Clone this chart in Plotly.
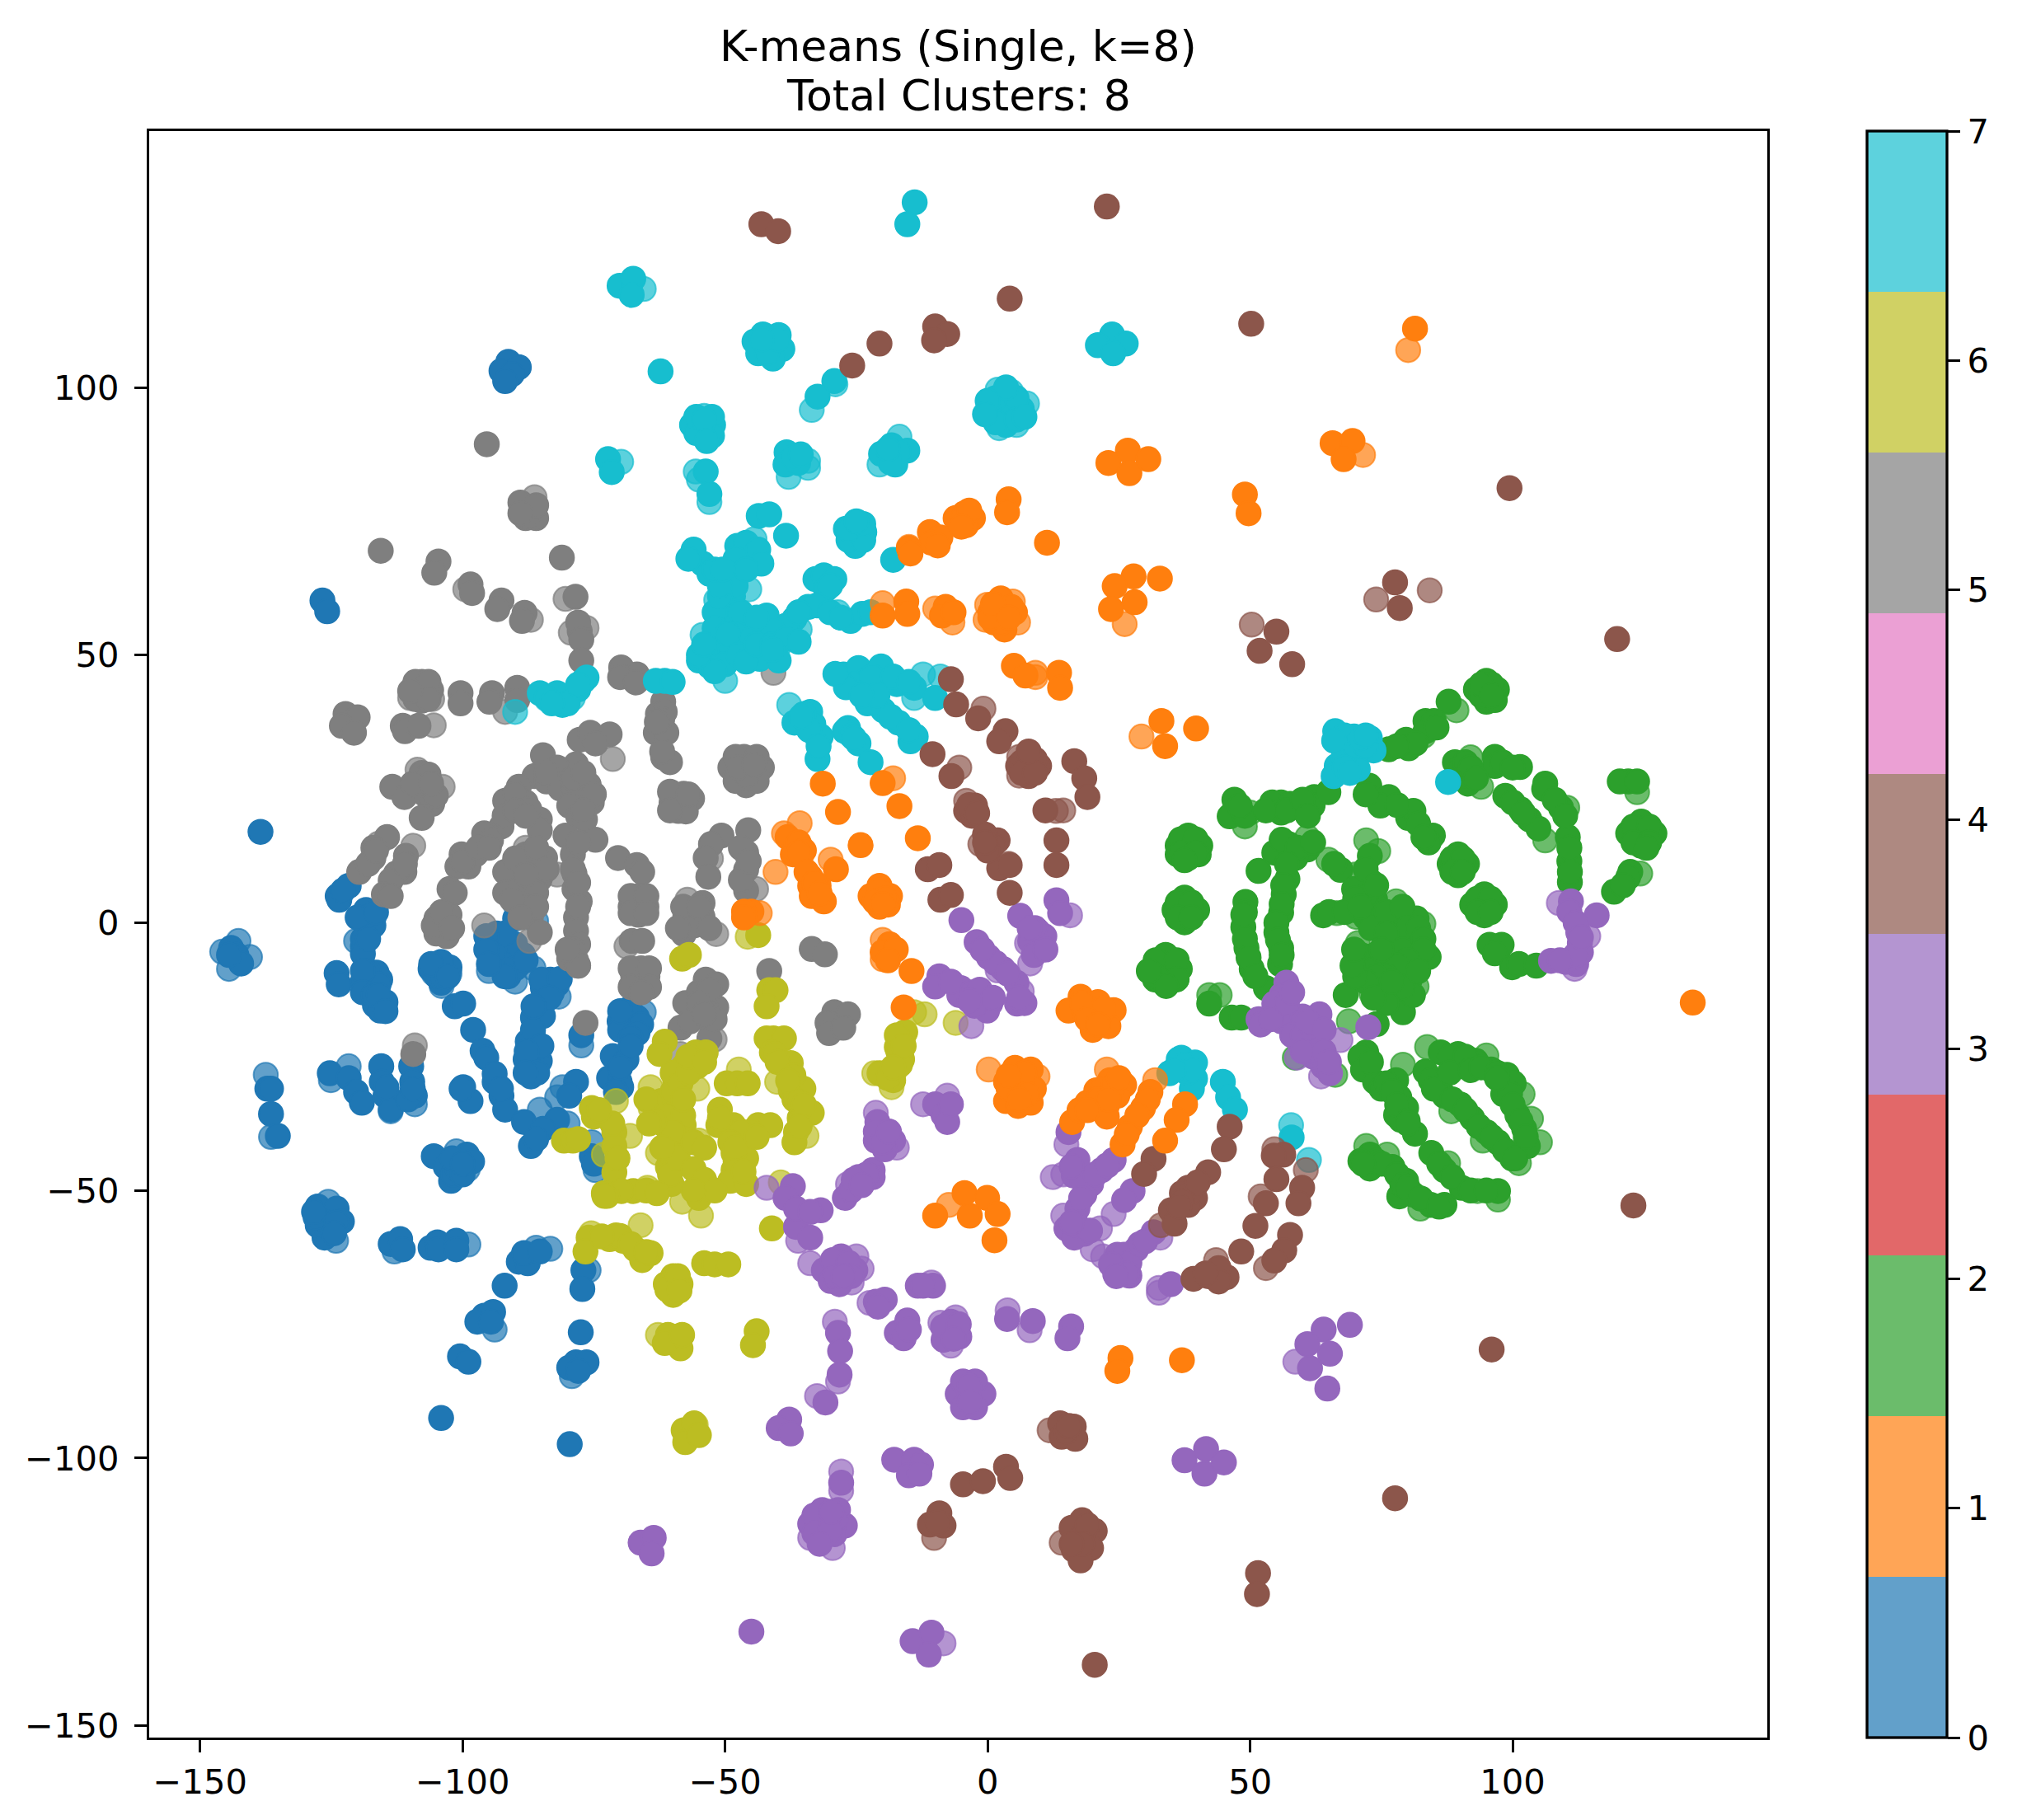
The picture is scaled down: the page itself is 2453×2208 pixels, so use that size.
import plotly.graph_objects as go

TITLE_LINE_1 = "K-means (Single, k=8)"
TITLE_LINE_2 = "Total Clusters: 8"
X_TICKS = [-150, -100, -50, 0, 50, 100]
Y_TICKS = [-150, -100, -50, 0, 50, 100]
CBAR_TICKS = [0, 1, 2, 3, 4, 5, 6, 7]
TAB10 = [(31,119,180),(255,127,14),(44,160,44),(214,39,40),(148,103,189),
         (140,86,75),(227,119,194),(127,127,127),(188,189,34),(23,190,207)]

blue_solid = [(-91.3,104.8),(-92.6,103.1),(-89.3,103.8),(-90.6,102.5),(-91.9,101.2),(-126.7,60.2),(-125.8,58.2),
 (-138.5,17),(-144.1,-4.7),(-143.1,-6),(-142.2,-7.6),(-144.5,-6),(-121.7,6.9),(-123.8,5),(-123.5,4.3),(-119.4,0.8),(-117,0.8),(-118.4,2.4),(-118.4,-0.5),
 (-119,-4.4),(-119,-3),(-124,-9.4),(-123.6,-11.5),(-117.7,-10.6),(-119,-10.9),(-116.4,-9.3),(-117.7,-11.9),(-115.7,-10.6),(-115.7,-15.1),(-116.7,-15.4),(-114.7,-14.8),(-115.7,-16.4),
 (-104.1,-8.6),(-106.1,-8.6),(-102.5,-8.3),(-104.1,-7.3),(-104.1,-11.2),(-105,-9.9),(-101.5,-15.6),(-99.9,-15.1),(-98,-20),(-96.2,-23.9),(-95.5,-25.2),
 (-93.9,-29.7),(-92.6,-32.3),(-91.9,-34.9),(-93.9,-28.2),(-99.9,-30.7),(-98.5,-33.3),(-100.2,-31),
 (-84.7,-12.2),(-82,-11.5),(-83.3,-10.6),(-83.9,-13.2),(-86,-17.4),(-86.6,-17.7),(-84.7,-17.4),(-86.6,-21.3),(-87.6,-22.2),(-86.6,-25.8),(-85.3,-25.8),(-88,-25.5),(-87,-28.7),(-86.6,-23.5),
 (-69.5,-18.4),(-66.8,-17.7),(-68.3,-16.1),(-68.3,-20.3),(-70.1,-18.4),(-70.1,-25.2),(-71.4,-24.9),(-68.8,-25.5),(-72.1,-29),(-70.1,-29.7),(-69.8,-30.7),(-70.8,-31.6),
 (-77.4,-21),(-78.4,-29.7),(-79.7,-32.3),(-82,-36.8),(-88.3,-37.2),(-84.7,-38.5),(-87,-41.7),(-86,-40.4),(-75.4,-43.6),(-75,-45),
 (-137.2,-31),(-136.5,-31),(-136.5,-35.7),(-135.2,-39.8),(-125.3,-28.1),(-121.7,-29),(-120.3,-31.6),(-119.2,-33.6),(-115.5,-26.8),(-115.4,-29.7),(-114.7,-32.3),(-113.7,-34.9),
 (-109.8,-26.8),(-109.6,-29.7),(-109.1,-32.3),(-110.4,-33),(-105.5,-43.6),(-103.2,-45.6),(-99.2,-43.3),(-98.2,-44.6),(-102.2,-48.2),(-101.8,-47),(-100.5,-45.6),
 (-126,-54.7),(-127.6,-53),(-124,-53.4),(-126.3,-58.8),(-127.6,-56.5),(-123,-55.8),(-126.3,-56.5),
 (-113.7,-60),(-111.9,-59.1),(-111.4,-61),(-106.1,-60.7),(-104.8,-59.7),(-104.6,-61),(-101.2,-59.4),(-101.2,-61),(-89.3,-63.3),(-87.6,-63.6),(-88.3,-61.7),(-85.3,-61.4),
 (-92,-67.8),(-95.9,-73.4),(-97.2,-74.5),(-94.2,-72.7),(-94.6,-74.5),(-100.5,-81),(-98.9,-82),(-104.1,-92.5),(-77,-64.9),(-77.2,-68.4),(-77.5,-76.5),
 (-78.4,-82.1),(-76.4,-82.1),(-79.7,-83.1),(-78,-83.7),(-79.6,-97.4),(-92,-3),(-93,-5),(-91,-6),(-89.5,-8),(-92.5,-8),(-90,-4),(-88.5,-6),(-93.5,-2),(-91.3,-10),(-89,2.5),(-90,0.8)]
blue_more = [(-118.4,1),(-117,-0.5),(-120,1),(-116.5,2),(-119,-5.8),(-118,-3),(-118,-9),(-116,-11.5),(-119,-9),(-119,-13),(-117,-13.5),(-116,-13.5),(-114.7,-16.5),
 (-83,-13),(-85,-10.6),(-81.5,-10.5),(-83.5,-14),(-68,-16.5),(-66,-19),(-70,-20),(-66.7,-20.6),(-68,-21.5),(-70,-16.5),(-68,-23),(-70,-27),(-104,-10),(-106,-7.7),(-102.8,-10),
 (-126,-56),(-128,-55),(-124,-56),(-124.5,-58),(-128.3,-54),(-101,-46),(-100,-47),(-102,-44),(-100,-45),(-91,-5),(-93,-7),(-90,-8.5),(-92,-10),(-94,-5),(-92,-2),(-88,-7),(-95.5,-2.5),(-95.5,-5),(-95,-7.7),
 (-86.6,-20),(-85,-23),(-87.8,-24),(-85.8,-28),(-86.5,-15.6),(-88,-28),(-122.8,6),(-114.5,-30.8),(-109.5,-31),(-92.7,-31)]
blue_faint = [(-142.7,-3.4),(-145.8,-5.4),(-140.5,-6.4),(-144.5,-8.6),(-120.3,-3.4),(-81.7,-13.8),(-85,-17.4),(-77.4,-22.9),(-81,-30.7),(-82,-32.6),(-85.3,-34.9),(-80,-37.5),
 (-75.4,-41),(-74.7,-46.2),(-137.5,-28.4),(-136.5,-40),(-125.1,-29.4),(-121.7,-26.8),(-113.7,-35.2),(-109.1,-33.9),(-101.2,-42.7),(-99,-46),(-125.6,-52.1),(-124.1,-59.4),
 (-113,-61.4),(-98.9,-60.1),(-86,-60.7),(-83.3,-60.9),(-93.9,-76),(-76,-64.9),(-79.2,-84.7),(-95,-9),(-90,-11),(-86.5,-8.5),(-90,3.5),(-86,0.3),(-65.5,-16.7),(-105.5,-9.5),(-102.5,-9.5),(-104,-11.8)]

orange_solid = [(81.4,111),(65.7,89.6),(69.5,90),(67.8,86.6),(49,80),(49.7,76.5),(26.7,88.2),(23,85.9),(30.6,86.6),(27,84),(4,79.1),(3.7,76.7),(11.3,71),
 (-4.4,76.5),(-6.1,75.6),(-2.8,75.6),(-4.1,74.3),(-11,73),(-9,72),(-10.7,71),(-15,70),(-14.7,69),(-20,57.4),(-15.5,60),(-15.3,57.7),(-8,59),(-8.7,57.4),(-6.5,58),
 (5.2,58),(2.5,60.6),(1.2,56.1),(3.2,54.8),(2.5,58),(0.5,58),(27.8,64.7),(24.2,62.9),(32.8,64.3),(28,59.9),(23.5,58.6),(5,48),(7.2,46.2),(13.6,46.7),(13.8,43.9),
 (33.1,37.7),(33.8,33),(39.7,36.3),(-31.4,26),(-20,26.1),(-28.5,20.7),(-16.8,21.8),(-24.2,14.5),(-13.3,15.8),(-38.1,16),(-36.5,14.4),(-37.1,12.8),(-28.9,10),
 (-33.8,8.6),(-33.8,6.9),(-32.2,6.9),(-33.5,5),(-31.2,4),(-22.3,5),(-18.6,5),(-20.6,6.9),(-20.6,3),(-19,3.4),(-20.6,5),(-45,2.1),(-46.4,2.1),(-46.4,1),
 (-18.7,-4),(-20,-5.5),(-17.5,-5),(-19,-7),(-14.5,-9),(-16,-15.8),(5.2,-27.1),(8.2,-27.4),(3.5,-29.7),(6.5,-30),(3.5,-33.3),(5.8,-34.2),(8.2,-33.6),(8.8,-31),(5.5,-31),
 (17.7,-13.8),(21,-14.8),(24,-16.3),(15.4,-16.4),(18.4,-16.7),(23,-19.3),(20,-20),(21.5,-17),(23.3,-29.4),(26,-30.3),(20.7,-31.3),(24.7,-32.3),(19,-33.6),(22.7,-34.2),(22.7,-36.2),(16.1,-37.2),
 (31,-31.6),(29.6,-34.6),(27.1,-38.1),(25.7,-41.4),(37.6,-33.9),(36,-36.8),(33.8,-40.7),(-4.4,-50.5),(-0.1,-51.4),(-10,-54.7),(1.9,-54.4),(-3.4,-54.7),(1.3,-59.3),(25.3,-81.3),(24.7,-83.7),(37,-81.7),(134.3,-14.9)]
orange_more = [(2.5,56),(0.5,57),(4.5,59),(1,59.5),(4,57),(5,-29),(7,-28),(4,-31),(7.5,-32),(6,-33),(4,-28.5),(-20.6,6),(-21.5,4),(-19.5,4.5),(-20,3.5),(-36,15),(-35,13.5),(-36,13),(-34.5,9.5),(-33,7.5),(-32,5.5),
 (20,-17),(18,-15),(22,-16),(19,-18),(21,-19),(22,-31),(24,-30.5),(21,-33),(23,-33),(25,-29),(17.5,-35),(19,-35),(30.5,-33),(28.5,-36),(26.5,-39.5),(-4.8,75.5),(-3.5,77),(-5,74),(-9.5,70.5)]
orange_faint = [(80.1,107),(71.5,87.4),(26.1,55.8),(-20,59.7),(-10,58.7),(-6.7,56.1),(-0.1,59.4),(4.8,60),(-0.4,56.6),(5.8,56.1),(9.1,46.7),(9.1,45.9),(29.3,34.8),(-18,27),(-35.8,18.6),(-38.8,16.7),(-35.5,12.5),(-29.9,11.8),(-40.4,9.5),
 (-43.4,1.8),(-20,-3.2),(-20,-6.8),(0.2,-27.4),(9.5,-28.7),(31.9,-29.4),(22.7,-27.4),(-7.4,-52.7),(-15,70.2)]

green_solid = [(95,43.3),(93,43.6),(97,43.6),(95,45.2),(95,41.3),(96.6,41.6),(87.8,41.3),(83.4,37.7),(83.4,35.8),(85,37.7),(79.7,34.2),(80.2,32.6),(76.4,32.4),
 (89,30),(90,29),(96.6,31),(96.6,29.3),(91.5,26),(101.4,29.1),(106.2,26),(109.2,21.5),(98.6,23.7),(101.5,21.2),(103.2,19.3),(104.9,17.6),(110.5,16),(110.8,11.5),(110.9,7.6),
 (122,26.4),(120.4,26.4),(123.7,26.4),(122,16.7),(127,16.7),(124.5,18.9),(124.5,14.4),(124.5,16.7),(122.4,9.5),(119.3,5.8),(72.7,25.6),(76.4,23.5),(74.8,21.9),(80.1,19.6),(81.1,20.9),(84.8,16.3),(84,15),
 (88,11),(91.3,11),(89.6,12.8),(89.6,8.9),(89.6,11),(92.3,3.4),(96.6,3.4),(94.6,5.3),(94.6,1.4),(94.6,3.4),(95.6,-4.1),(97.9,-4.1),(96.6,-5.7),(99.9,-8.3),(101.2,-7.7),(104.5,-8),
 (47.4,20.9),(46.1,19.9),(47,23),(55.9,22.5),(55.9,20.6),(54.2,22.5),(57.6,22.2),(62.2,23.5),(61.9,21.9),(64.9,24.4),(57.3,14.7),(54.6,13.1),(60.9,13.7),(58.6,12.1),(51.6,9.7),(57.1,8.2),(56.4,5.3),(55.9,1.9),(55,-1.8),(55.9,-4.7),(55.7,-7.7),
 (49.1,3.9),(48.7,-0.8),(49.3,-4.7),(50.3,-8.6),(53,-12.2),(36.2,14.4),(40.5,14.4),(38.2,16.3),(38.2,12.1),(36.2,12.8),(40.2,12.8),(38.2,14.4),(35.6,2.4),(39.9,2.4),(37.5,4.7),(37.5,0.1),(37.5,2.4),
 (31.3,-8.6),(36.6,-8.6),(33.9,-6),(33.9,-11.2),(31.9,-10.6),(35.9,-10.6),(33.9,-8.6),(42.2,-15.1),(46.5,-17.7),(48.3,-17.7),
 (67.2,9.9),(72.8,12.5),(73.1,7.6),(69.8,6.3),(69.8,2.4),(63.9,1.4),(73.8,4.3),(74.1,-0.2),(78.4,1.1),(81.7,0.8),(78.4,-2.1),(81.7,-3.4),(71.1,-6),(73.8,-6),(71.1,-8.6),(73.8,-8.6),(84,-6.4),(81,-8.6),(79.1,-10.6),(80.4,-10.6),
 (68.2,-13.5),(76.4,-13.5),(79.1,-14.5),(79.1,-16.7),(81,-13.5),(74.1,-18.9),(74,3),(77,-3),(77,-6),(81,-6),
 (72.1,-24.2),(71,-25),(71.5,-27.4),(73.8,-29.7),(77.8,-29.4),(78.4,-32.6),(79.7,-34.6),(77.8,-35.9),(78.7,-36.8),(81.4,-39.4),(86.3,-24.2),(89.6,-24.5),(89.6,-26.8),(93,-25.8),(95.9,-27.4),(98.9,-28.4),(100.2,-30),(98.2,-32),
 (83.4,-27.8),(84.4,-29.4),(87,-32.3),(90,-33.9),(92.3,-36.5),(95,-39.1),(97.2,-41),(99.9,-44),(100.9,-35.9),(102.2,-38.5),(102.9,-41.7),
 (72.8,-43.3),(72.8,-45.9),(77.1,-45.6),(79.7,-48.2),(81.1,-50.8),(78.4,-51.1),(84.4,-52.7),(87,-52.7),(84.5,-43),(87,-46.2),(90.3,-49.5),(97.2,-50.1)]
green_more = [(36.8,15.6),(39.6,15.6),(36.8,13),(39.6,13),(37.5,11.7),(36.2,3.8),(38.8,3.8),(36.2,1),(38.8,1),(32,-7),(36,-7),(32,-10),(36,-10.5),(34,-11.8),(30.7,-9),(123,18),(126,18),(123,15),(126,15),(125.5,14),(94,42.5),(96,44.5),(94,44.5),(96,42.5),
 (88.5,12),(90.5,12),(88.5,9.5),(90.5,9.5),(93.3,4.5),(95.8,4.5),(93.3,2),(95.8,2),(72,24),(78,22),(82,18.5),(83,16),(90.5,27.5),(98,30),(100,29),(100,22.5),(102,20.5),(106,25),(108,23),(110,20),(110.8,14),(110.9,9.5),(122,8.5),(121,7),(85.5,36.5),(81.5,33.5),(78,33),(91,30),(92,29),(93,27),
 (49,20),(48,21.8),(53,21),(57,21),(60,23),(61,20),(56,15.5),(59,14),(62,15),(57,11),(56.3,7),(56,3.5),(55,0),(55.3,-3.2),(56,-6),(49,2),(48.7,1.5),(49,-3),(49.7,-6.5),(51,-10),
 (72,10),(72,5),(70,4.5),(72,1),(73,-1),(74,7),(76,2),(79,3),(80,-1),(76,-2),(79,-5),(82,-1),(83,-3),(83,-5),(80,-7),(78,-8),(76,-10),(74,-10),(72,-11),(70,-10),(69.5,-8),(69.8,-5),(75,-5),(79,-12),(76,-15),(73.5,-14),(77,-11),(82,-9),(65,2),(68,2),(71,3),(66,11),
 (73,-26),(75,-31),(76,-30),(77,-31.5),(78,-34),(80,-37),(80,-37.5),(85,-31),(88.5,-33),(91,-35),(93.5,-38),(96,-40),(98.5,-42.5),(88,-25),(91,-25),(88,-28),(92,-27.5),(94,-27),(97,-28),(99.5,-32),(100,-34),(101.5,-37),(102.5,-40),(97,-29),(100.5,-44),
 (74,-44.5),(75,-45),(78,-47),(79,-49),(80,-49.5),(82.5,-51.5),(86,-45),(88.5,-47.5),(92,-50),(95,-50),(86,-53),(71,-44.5),(71.5,-45)]
green_faint = [(89.3,39.7),(83,34.9),(92,30.9),(94,25.4),(110.4,21.5),(106.2,15.4),(123.7,24.4),(124.3,9.2),(50,20.6),(49,18),(60.9,16),(64.9,11.8),(72.1,15.4),(74.4,13.4),(70,9),(70.2,1.1),(66.5,1.8),(77.8,4),(83,-0.2),(70.5,-3.8),(81.7,-11.9),(73.1,-13.2),
 (42.2,-13.5),(44.2,-13.5),(68.8,-18.4),(58.5,-25.2),(66.2,-28.4),(79.1,-26.5),(83.7,-23.2),(95,-24.8),(101.9,-32),(88.3,-35.2),(94.3,-40.7),(101.2,-44.9),(105.2,-41),(103.5,-36.6),(72.1,-41.7),(76.1,-43.3),(82.4,-53.4),(87.7,-44.9),(93.3,-50.1),(97.2,-51.7)]

purple_solid = [(-66.1,-115.8),(-63.6,-114.9),(-64,-117.8),(-36.5,-56.8),(-33.8,-58.8),(-31.2,-64.9),(-29.9,-66.9),(-25.2,-64.9),(-27.9,-62.3),(-28.2,-67.5),(-28.2,-64.6),
 (-21.3,-70.8),(-19.6,-70.4),(-20.9,-71.7),(-13.3,-67.8),(-10.4,-67.8),(-12.3,-67.8),(-16,-76),(-17.3,-76.6),(-15.3,-74.3),(-16,-77.6),(-15,-76),
 (-5.4,-77.3),(-8.4,-77.9),(-7.4,-75.3),(-7,-76),(3.7,-74),(8.6,-74.4),(15.9,-75.4),(15.2,-77.6),(-28.5,-76.6),(-28.1,-80),(-28.2,-84.4),(-30.9,-89.6),
 (-5.7,-88),(-0.8,-88),(-4.7,-85.7),(-2.4,-85.7),(-4.7,-90.5),(-2.4,-90.5),(-3.4,-88),(-37.8,-92.8),(-39.8,-94.4),(-37.5,-95.4),(-17.8,-100.3),(-14,-100.3),(-12.7,-101.2),(-15,-103.2),(-13,-102.9),
 (-27.9,-104.6),(-33.8,-112.3),(-27.2,-112.6),(-31.5,-109.7),(-28.5,-109.7),(-30.9,-112.3),(-31.8,-114.9),(-29.2,-114.2),(-45,-132.4),(-14.3,-134.2),(-10.7,-132.6),(-11.2,-136.7),
 (37.5,-100.4),(41.6,-98.3),(41.3,-102.9),(45,-100.8),(69,-75.1),(64,-76),(60.9,-78.7),(65.2,-80.5),(61.4,-83.2),(64.7,-87),
 (15,-57.1),(18.4,-58.1),(16.5,-58.8),(31.6,-57.8),(28.3,-61),(25.7,-63.6),(24.3,-65.6),(27,-65.9),(24.7,-62),(34.9,-67.5),
 (-5,0.5),(6.2,1.3),(13.1,4.2),(13.8,1.8),(9.5,-1.5),(8.1,-3.4),(10.8,-2.5),(8.8,-6),(-2.1,-3.6),(0.2,-6.4),(2.9,-8.6),(5.5,-11.2),(5.6,-15.1),
 (-9.2,-10),(-10,-11.9),(-5.1,-12.2),(-5.4,-13.5),(-1.4,-14.1),(0.5,-15.1),(-0.1,-16.4),(-2.5,-15.5),
 (-10,-33.9),(-8.4,-35.9),(-7.7,-37.2),(-7,-33.9),(-21,-37.2),(-19.6,-39.1),(-21.3,-40.7),(-18,-40.7),(-19.6,-42.3),(-24.6,-47.5),(-21.9,-46.2),(-27.2,-51.4),(-25,-49),(-23.5,-47.5),(-21.9,-47.5),
 (-37.1,-49.2),(-38.5,-51.4),(-36.5,-53.4),(-31.8,-53.7),(-33.8,-54),(15.4,-39.1),(17.1,-44.3),(24,-44.3),(21.7,-46.2),(16.4,-47.2),(19.7,-48.8),(27.6,-50.1),(18.4,-50.8),(26,-51.8),(17.1,-53.4),
 (56.9,-11.2),(56,-13.5),(54.6,-15.1),(51.6,-18),(56,-18.4),(60.6,-19.7),(63.2,-17.1),(59.3,-22.2),(62.6,-22.2),(63.9,-26.8),(65.2,-28.1),(72.5,-19.5),(60,-17.5),(62,-25),
 (111.1,4),(110.8,2.1),(116,1.4),(112.5,-1.8),(112.8,-3.8),(107.3,-7.1),(112.1,-7.7),(110.1,-7.3)]
purple_more = [(-29.5,-63),(-26.5,-63.5),(-29,-66),(-26,-66),(-27.5,-66),(-31,-112),(-33,-110.7),(-29,-111.5),(-33,-114),(-30,-113.5),(-32,-116),(-29.8,-110),(-7,-74.5),(-8.5,-75.5),(-5.5,-75),(-6.5,-77.7),(-3.5,-86.5),(-3.4,-89.5),
 (25,-64.5),(26,-62),(27,-63.5),(23.5,-63.8),(26.5,-65.5),(24.5,-66),(29,-60),(30,-59.5),(18,-48),(20.5,-47),(22.8,-45.3),(16,-45.5),(17.8,-51.5),(17,-56.5),(19.5,-57.5),(16,-56),(1.5,-7.5),(3.8,-9.5),(-1,-5),(7,-15),(6,-14),
 (-7,-11),(-3,-13),(-1.5,-12.5),(1,-14),(-3.5,-14.5),(-21.3,-39),(-20,-41),(-18.8,-39),(-23,-47),(-26,-50),(-25.5,-48),(-24,-49),(9,-1),(8,-1),(11,-5),(58,-21),(60,-21),(62,-20),(61,-18.5),(64,-20),(62,-24),(60,-24),(64,-24),(65,-26),(52,-19),(54,-18),(57,-15),(58,-13),(112,0),(113,-5.5),(112,-6),(113,-2.7),(109,-7)]
purple_faint = [(-36.1,-59.4),(-33.8,-63.6),(-25.9,-67.2),(-25,-62.3),(-24,-64.6),(-22.5,-71),(-10.7,-67.2),(-9,-74.7),(-6.1,-73.7),(-7,-79),(8,-76.1),(3.8,-72.4),(-29.1,-74.5),(-28.5,-85.7),(-32.5,-88.4),(-27.9,-102.5),(-27.9,-106.1),
 (-33.8,-114.9),(-29.5,-116.8),(-8.4,-134.6),(58.6,-82),(21.4,-57.1),(20,-61),(22,-62.3),(32.9,-58.8),(32.6,-68.2),(32.6,-69.1),(15.7,1.4),(7.5,-3.8),(8.1,-7.6),(1.9,-8.9),(6.5,-12.8),(-3.1,-19.3),(-7.7,-32.3),(-12.3,-33.9),
 (-21.3,-35.5),(-17.3,-42),(-26.6,-48.8),(-42.1,-49.5),(15,-41.4),(12.4,-47.5),(14.4,-47),(24,-54.4),(14.4,-54.7),(67.2,-21.9),(58.9,-25.2),(63.5,-28.7),(108.8,3.7),(114.4,-2.5),(111.8,-8.6)]

brown_solid = [(50.2,111.9),(99.4,81.2),(77.6,63.6),(78.5,58.8),(119.9,53),(55,54.4),(51.8,50.8),(58,48.3),(-43.1,130.5),(-39.9,129.2),(22.7,133.8),(4.2,116.6),(-10,111.4),(-7.7,110),(-10.2,108.8),(-20.6,108.2),(-25.8,104.1),
 (-7,45.5),(-6,40.8),(-1.8,38.2),(3.4,35.8),(2.2,33.9),(-10.5,31.5),(-6.9,27.4),(5.8,29.3),(9.8,29.3),(7.8,31.3),(7.8,27.4),(7.8,29.3),(16.5,30.2),(18.4,27),(19,23.5),(11,21),(13.1,15.4),(13.1,10.8),
 (-2.4,21.9),(-4.1,20.9),(-3,20),(0.2,15.4),(1.9,15.4),(-0.2,14),(2.2,10.2),(4.2,10.8),(4.2,5.6),(-11.4,10),(-9.2,10.8),(-9,4.3),(-7,5.2),
 (46.1,-38.1),(45,-42.3),(31.6,-44.1),(29.8,-46.9),(42,-46.6),(38.2,-49.5),(37,-50.5),(39.5,-51.4),(34.9,-53.7),(38.2,-52.7),(35.6,-56.2),(56.3,-43.3),(54.5,-43.5),(55,-47.9),(59.9,-49.5),(59.2,-52.4),(53,-52.4),
 (51,-56.6),(57.6,-58.3),(48.3,-61.4),(56.5,-61.2),(54.6,-63.1),(39.2,-66.5),(43.5,-65.3),(45.5,-66.2),(42,-66),(96,-79.7),(77.6,-107.5),(51.5,-121.5),(51.3,-125.4),
 (13.8,-93.5),(16.4,-94.1),(14.1,-96),(16.7,-96.4),(-4.7,-104.9),(-0.9,-104.3),(3.5,-101.6),(4.3,-103.7),(-9.2,-110.3),(-11,-112.4),(-8.4,-112.6),
 (18,-111.6),(20.4,-113.6),(16.7,-114.5),(19.7,-116.8),(16.4,-117.1),(17.7,-119.1),(20.4,-138.6),(123,-52.8)]
brown_more = [(6.5,30),(9,30.5),(6.5,28),(9,28),(7.8,32),(-3,20.5),(-3.5,22),(-2,20.5),(1,14.5),(0,13.5),(-0.5,16.5),(-0.5,15),(38.5,-50.5),(40,-48.5),(37,-52),(36.5,-53),(44,-64.5),(44,-67),(41.5,-65.5),(16,-113),(18,-114.5),(19,-112.5),(18,-116),(16,-116),(15,-95),(15.5,-94),(-9.5,-112)]
brown_faint = [(74,60.4),(84.2,62.1),(50.3,55.7),(-0.8,40),(-5.4,29),(6,31),(6,27.5),(13,20.9),(-4.1,22.8),(-1.4,14.7),(4,11),(60.6,-46.2),(52,-51.1),(54.6,-42.3),(53,-64.5),(43.5,-63),(11.8,-94.8),(-10.2,-114.9),(14.1,-115.8),(14.4,21),(33,-56.5)]

gray_solid = [(-95.4,89.4),(-87.6,77.5),(-88,75.6),(-86,75.6),(-89,78.5),(-115.6,69.5),(-104.6,67.5),(-105.4,65.4),(-98.5,63.2),(-98.2,61.6),(-81.1,68.2),(-92.6,60.2),(-93.4,58.6),(-88.2,57.9),(-88.7,56.4),(-78.5,60.9),
 (-77.7,54.5),(-78,56.1),(-77.4,52.9),(-77.4,49),(-69.8,47.7),(-66.8,46.4),(-107.8,43.3),(-109.5,43.5),(-106,43.5),(-107.8,41.5),(-107.8,45),(-100.4,42.9),(-100.4,41),(-94.4,42.9),(-94.9,41.3),(-89.6,43.9),(-89.6,41.6),
 (-70,45.9),(-67,44.9),(-61.8,41.3),(-62.8,39),(-61.5,39.4),(-63.2,35.5),(-61.2,35.5),(-61.8,30.9),(-60.5,30),(-58.9,23.2),(-60.2,22.5),(-57.9,24.1),(-58.9,20.9),(-56.3,23.2),
 (-122.3,39),(-120,38.4),(-123,36.8),(-120.7,35.5),(-111.4,36.8),(-111,35.8),(-108.4,36.8),(-84.7,31.3),(-77.7,34.2),(-75.7,35.5),(-72,35.2),(-74.7,33.5),(-78.4,29.6),
 (-86.3,27.4),(-89.3,25.4),(-84,26.4),(-81,27.7),(-76,25.8),(-91.9,22.8),(-88,22.5),(-90,24.1),(-81.4,25.1),(-79,25),(-75.4,22.5),(-85.3,19.3),(-85.3,17.3),(-87.3,21.2),(-92.6,18),(-95.9,16.7),(-94.6,15.4),(-100.2,12.8),(-98.9,10.5),(-101,10.5),(-97.5,12.8),(-102.5,6.3),(-101.5,5.6),
 (-79.7,21.9),(-78,19.9),(-76.7,19.3),(-74.7,15.5),(-80.4,16.3),(-79,12.8),(-78.7,9.2),(-78.7,6.3),(-77.7,4),(-78.4,1),(-78.4,-1.5),(-79.7,-6.7),(-78.4,-7),
 (-70.4,12.1),(-66.8,10.8),(-65.8,9.5),(-68,3),(-65,3),(-66.5,5),(-66.5,1.5),(-66.5,3.4),(-67.8,-3.4),(-65.8,-3.4),(-67.5,-10),(-64.8,-10),(-66,-8.5),(-66,-12),(-66,-10),
 (-57.6,1.1),(-57.9,-2.1),(-54.3,3.7),(-54.3,1.1),(-55,-0.2),(-57.6,-15),(-58.5,-19.6),(-56.7,-18.4),(-114.4,16),(-117,12.1),(-119.7,9.5),(-110.8,12.5),(-111.1,9.5),(-112.7,9.2),(-113.7,7.9),(-115,5.3),(-113.7,5),
 (-107.8,28),(-106.5,27.7),(-113.4,25.4),(-111.1,23.5),(-107.2,24),(-105.8,22.2),(-107.8,19.6),(-105.1,23.8),(-105,0.8),(-103,0),(-104,-1.5),(-105,-2),(-103,-2.5),
 (-91.9,9.5),(-84.3,12.1),(-87.3,9.5),(-85.3,8.2),(-91.9,5.6),(-89.3,6.3),(-86,5.6),(-88,3),(-87,1.1),(-90.6,4.3),(-88,12.8),(-85.3,-1.8),(-109.4,-24.5),(-76.6,-18.7),
 (-45.6,17.3),(-46,13.1),(-46,9.9),(-46,6),(-50.7,16.3),(-52.7,14.7),(-53.7,12.1),(-53.2,8.6),(-49,29),(-43,29),(-46.4,31),(-46,25.7),(-48,27.5),(-44,27.5),(-46,29),
 (-33.5,-4.9),(-31,-5.9),(-41.6,-9),(-53.7,-10.6),(-51.7,-11.5),(-54.3,-13.2),(-51.7,-15.8),(-53.7,-15.8),(-53,-18.4),(-53,-21.6),(-29.2,-16.7),(-26.6,-17.1),(-30.5,-18.7),(-30.2,-20.6),(-27.5,-19.6)]
gray_more = [(-48,31),(-44,31),(-48,26.5),(-44,26.5),(-46,27.5),(-47.5,29),(-44.5,29.5),(-109,45),(-106.5,45),(-109,41.8),(-106.5,41.8),(-110,43.3),(-68,5),(-65,5),(-68,1.8),(-65,1.8),(-68,-8.5),(-64.5,-8.5),(-68,-12),(-64.5,-12),(-66,-13),
 (-60.5,24.5),(-57.5,20.8),(-60.5,21),(-57,24),(-105.5,-0.5),(-102.5,1.5),(-104,2),(-102,-1),(-87.6,76),(-86,78),(-89,76.5),
 (-100,11.5),(-97,14),(-95,14),(-92,20),(-90,21),(-88,20),(-82,29),(-84,28),(-79,27),(-77,28),(-75,24),(-77,21),(-78,15),(-79,10),(-78,7.5),(-78,3),(-78,-4),(-79,-5),(-86,14),(-84,10),(-90,12),(-88,9),(-86,3),(-89,1),
 (-58,-1),(-56,-0.5),(-58,3),(-55,3),(-53,-1),(-59,-1),(-55,-13),(-53,-12.5),(-55,-15),(-52,-18),(-54,-17),(-62,32),(-62,38),(-63,37.5),(-117,14),(-118,11),(-111,11),(-116.5,13.5),(-109.5,26),(-106,26),(-78,-8),(-80,-5),(-47,14),(-47,8),(-45.5,11.5)]
gray_faint = [(-86.3,79.5),(-99.5,62.3),(-87,56.6),(-80.4,60.5),(-79.4,54.2),(-76.4,55.1),(-91.9,39.4),(-110,42),(-105.8,41.8),(-71.4,30.6),(-105.5,36.9),(-103.8,25.4),(-108.6,28.6),(-109.4,14.4),(-116,14.8),(-95.9,-0.5),(-87.3,-3.4),(-88,14),(-82,9),(-78,-8),(-68.8,-4.4),(-57.2,4.3),(-51.7,-2.1),(-58.5,-24.5),(-109.1,-22.9),(-44.1,6.3),(-52.7,12),(-52,-21.8),(-40.8,46.7)]

olive_solid = [(-76,-58.8),(-76.6,-61.4),(-72,-59.1),(-69.4,-59.4),(-70.8,-58.4),(-67.1,-61),(-65.8,-63),(-64.2,-61.7),(-61.3,-67.5),(-58.5,-67.5),(-59.9,-66),(-59.9,-69.5),(-59.9,-67.5),(-60.9,-77),(-58.5,-79.5),(-61.5,-78.5),(-58.2,-77),
 (-57.9,-94.8),(-57.6,-97),(-55.9,-93.5),(-55,-95.7),(-54,-63.6),(-52,-63.8),(-49.4,-63.8),(-44,-76.3),(-44.7,-78.9),(-41.1,-57.1),
 (-43.7,-2.3),(-41.6,-12.6),(-40.4,-12.6),(-42.1,-15.6),(-16,-21),(-17.3,-23.2),(-15.7,-20.4),(-17.3,-21),(-16.3,-25.5),(-17.6,-27.4),(-20.6,-28.1),(-18,-29.4),
 (-40.8,-21.6),(-42.1,-21.6),(-38.8,-21.6),(-41.1,-24.2),(-38.8,-26.5),(-37.5,-26.2),(-37.5,-31.3),(-35.1,-31),(-36.8,-33),(-35.8,-36.5),(-33.5,-35.5),(-36.5,-39.1),(-36.8,-41),
 (-49.7,-30),(-47.7,-30),(-45.7,-30),(-51,-34.9),(-51.3,-37.8),(-48.4,-37.8),(-43.7,-37.8),(-41.4,-37.8),(-45,-39),(-48.4,-43),(-46,-44),(-48.4,-46.2),(-49,-48.2),(-46,-48.8),(-55,-51.4),
 (-61.5,-22.2),(-62.5,-24.5),(-58.2,-6.7),(-56.9,-6),(-75.4,-34.6),(-75,-36.2),(-80.7,-40.7),(-79,-40.7),(-78,-40.4),(-71.1,-39.1),(-71.1,-41.7),(-71.1,-46.6),(-73.1,-50.5),(-67.5,-50.1),(-69.8,-50.1),
 (-60.9,-45.6),(-59.5,-41.4),(-61.5,-37.8),(-57.9,-37.8),(-62.2,-33.3),(-59.5,-29.4),(-59.5,-33.9),(-57.9,-26.8),(-60.2,-48.8),(-55.6,-24.2),(-53.7,-24.2),(-55.3,-26.8)]
olive_more = [(-60,-67),(-61,-68.5),(-59,-66),(-58.7,-68.7),(-70,-58.5),(-73.5,-58.6),(-68,-60),(-65,-61.5),(-40.5,-24.5),(-40,-26),(-37,-28.5),(-38,-29.5),(-36,-33.5),(-35,-34),(-35.8,-38),(-47,-39),(-49,-41),(-48,-44.5),(-48,-42),(-46.5,-46.5),(-44,-40),(-51,-36.5),
 (-60.5,-36),(-58,-36),(-60,-31.5),(-60,-28),(-58.5,-30),(-58,-33),(-60,-39),(-60.5,-43),(-60.5,-47),(-59,-44),(-57,-28),(-57,-25),(-54,-26),(-56,-41),(-54,-42),(-56,-46),(-54,-48),(-52,-50),(-56,-50),(-17,-24),(-16.7,-26.5),(-16,-23),(-19,-29),(-18,-27),
 (-71.5,-37.5),(-70.5,-44),(-72.5,-51),(-74,-35),(-73,-51),(-65,-50),(-63,-50.5),(-62,-42),(-63.5,-37),(-65,-33),(-64.5,-37.5)]
olive_faint = [(-45.7,-2.6),(-14,-16.7),(-12,-17.1),(-6.1,-18.7),(-21.6,-28.1),(-18.3,-30.7),(-40.1,-29.7),(-34.5,-39.8),(-47.4,-27.4),(-55,-40.7),(-53.3,-49.5),(-54.6,-54.7),(-39.4,-48.5),(-70.8,-33.3),(-68.1,-39.8),(-73.1,-43.3),
 (-64.8,-49.5),(-62.8,-43),(-64.2,-30.7),(-64.2,-34.6),(-58.2,-52.1),(-55.3,-31),(-66.1,-56.5),(-62.8,-77),(-55.6,-93.8),(-75.5,-58)]

cyan_solid = [(-70.1,119),(-67.5,120.3),(-67.8,117.3),(-62.3,103),(-72.3,86.6),(-71.6,84.2),(-13.9,134.6),(-15.3,130.5),(-42.8,109.9),(-39.8,109.8),(-44.4,108.6),(-39.1,107.2),(-43.7,106.4),(-40.9,105.4),(-41.8,108),
 (23.7,109.9),(21,107.9),(26.3,108.2),(23.9,106.4),(-29.2,101.2),(-32.4,98.3),(0.5,96),(6.5,96),(3.5,98.3),(3.5,93),(1.2,94.4),(3.5,96),(-56.3,93),(-52.3,93),(-54,90.8),(-54,92.8),
 (-53.7,84.3),(-53,80.1),(-38.3,87.9),(-38.5,85.6),(-36.1,85.9),(-18.3,89.2),(-15.3,88.2),(-20.3,87.6),(-17.6,85.6),(-43.6,76),(-41.6,76.3),(-38.4,72.3),(-25.2,74.3),(-27,73.6),(-25.2,72.3),(-23.5,73),(-25.2,70.4),(-18,67.8),
 (-47.7,70.4),(-46,71),(-43.7,69.7),(-43.1,67.1),(-47.7,65.5),(-49.7,61.9),(-48.5,61),(-48,56.8),(-50.7,55.8),(-54.3,67.1),(-56,69.7),(-53,65.2),(-50,51.6),(-52.6,50.9),(-49,50.5),(-55,49),(-50,48.3),
 (-32.8,64.2),(-31.2,64.9),(-29.2,64.2),(-30.8,62.3),(-34.2,59),(-32.5,59.3),(-36.8,56.8),(-38.4,55.5),(-42.1,57.4),(-43.7,54.8),(-41,54.8),(-43.4,49.3),(-39.8,49),(-26.1,56.4),(-23.9,57.7),(-22.3,58),
 (-27.5,46.4),(-24.6,47.6),(-20.3,47.9),(-22.9,41),(-19.9,39.7),(-17,37.4),(-13.7,34.8),(-14.7,33.9),(-25,43.9),(-23.3,45.2),(-17.3,44.6),(-14,43.9),(-10,42),(-20.3,45),
 (-33.8,39.4),(-36.8,37.4),(-32.5,34.8),(-33.2,37.1),(-31.8,34.8),(-32.4,30.6),(-26.6,36.4),(-24.6,33.5),(-22.3,30),(-27.2,35.8),
 (-85.3,42.9),(-82,42.9),(-81,40.7),(-77,45.2),(-76.4,45.8),(-78,43.6),(-61.5,45.2),(-63.2,45.2),(-60,45),
 (66.2,35.8),(69.8,34.8),(72.8,34.5),(73.5,32.2),(68.5,33.5),(66.5,29.3),(70.5,28.7),(67.8,30.9),(65.9,27.4),(87.7,26.3),
 (36.9,-25.2),(34.6,-28.1),(39.5,-26.1),(39.5,-29.1),(38.9,-31),(36.4,-25.5),(44.8,-29.7),(45.8,-32.6),(47.1,-34.9),(57.9,-40.1)]
cyan_more = [(1.5,98),(5.5,98),(1.5,93.5),(5.5,94),(3.5,100),(0,97.5),(7,94.5),(-0.5,95),(-55.5,91.5),(-52.5,94.5),(-55.5,94.5),(-52.5,91),(-54,94),(-53.5,90),(-26.5,71.5),(-23.7,71.5),(-26.5,73.5),(-23.7,74.5),(-25,75),(-30,63),(-42,106.5),(-40,109),(-43,109),(-37,87),(-35.6,87.5),(-17,88),(-18.5,86),(-19,88.5),
 (-48,68),(-49,64),(-48,63),(-50,59),(-49,57),(-47,58),(-52,58),(-51,61),(-48,54),(-45,53),(-52,55),(-49.5,54),(-47.5,50),(-46,48.8),(-53,48),(-52,47),(-44,52),(-41,52),(-38.5,53),(-36,52.5),(-44,57),(-36,58),(-30,58),(-28,57),(-41,51),(-46,66),(-51,63),(-55,50),(-54,52),(-52,66),(-50.5,66),(-57,68),
 (-25.5,44.5),(-22,46),(-18,46),(-15,45),(-21,42.5),(-27,44),(-29,46.5),(-24,42.5),(-18.5,38.5),(-15,36),(-35,39),(-34,36),(-35.5,38.5),(-32.2,33),(-26,35),(-25.5,34.5),(-84,42),(-80,41),(-78,44.5),(-83,41),(68,35),(70,33),(66,34),(72,33),(68,29),(69,28),(71,34.5),(72,35),(38,-28),(37.5,-26.5),(39,-27.5),(35.5,-27.5)]
cyan_faint = [(-65.5,118.4),(-69.8,86.1),(-29,100.6),(-33.5,95.8),(1.9,99.6),(4.5,99.2),(7.5,97),(2.2,92.4),(5.5,93),(-54,94.7),(-55.6,84.3),(-53,78.6),(-55,82.8),(-34.2,86.3),(-34.2,85),(-37.9,83.3),(-16.8,90.8),(-20.6,85.6),
 (-44.4,71.7),(-45.4,62.3),(-51.7,60.3),(-46,54.2),(-54.3,53.8),(-35.8,54.8),(-39.8,51.6),(-28.5,58),(-12.3,46.4),(-9,46),(-14,42),(-37.8,40.7),(-90,39.4),(-84,41.8),(-50,45.2),(57.8,-37.8),(61.2,-44.3),(-79,42)]

CLUSTERS = [(2, green_faint, green_solid + green_more), (0, blue_faint, blue_solid + blue_more),
            (7, gray_faint, gray_solid + gray_more), (8, olive_faint, olive_solid + olive_more),
            (9, cyan_faint, cyan_solid + cyan_more), (4, purple_faint, purple_solid + purple_more),
            (5, brown_faint, brown_solid + brown_more), (1, orange_faint, orange_solid + orange_more)]

def rgba(c, a):
    return f"rgba({c[0]},{c[1]},{c[2]},{a})"

def blended(c, a=0.7):
    return tuple(round(a * v + (1 - a) * 255) for v in c)

fig = go.Figure()
for idx, faint, solid in CLUSTERS:
    col = TAB10[idx]
    for pts, alpha in ((faint, 0.7), (solid, 1.0)):
        fig.add_trace(go.Scatter(
            x=[p[0] for p in pts], y=[p[1] for p in pts], mode="markers", showlegend=False, hoverinfo="skip",
            marker=dict(size=29.5, color=rgba(col, alpha), line=dict(width=2, color=rgba(col, alpha)))))

n = len(TAB10)
scale = []
for i, c in enumerate(TAB10):
    b = "rgb(%d,%d,%d)" % blended(c)
    scale += [[i / n, b], [(i + 1) / n, b]]

fig.add_trace(go.Scatter(
    x=[0], y=[0], mode="markers", showlegend=False, hoverinfo="skip",
    marker=dict(size=1, opacity=0, color=[0], cmin=0, cmax=7, colorscale=scale, showscale=True,
                colorbar=dict(x=1.0617, xanchor="left", y=0, yanchor="bottom", len=1, lenmode="fraction",
                              thickness=97, thicknessmode="pixels", xpad=0, ypad=0,
                              outlinecolor="black", outlinewidth=3.3, tickvals=CBAR_TICKS, ticks="outside",
                              ticklen=15, tickwidth=3.3, tickcolor="black",
                              tickfont=dict(family="DejaVu Sans", size=41.67, color="black")))))

axis = dict(showgrid=False, zeroline=False, showline=True, mirror=True, linecolor="black", linewidth=3.3,
            ticks="outside", ticklen=15, tickwidth=3.3, tickcolor="black",
            tickfont=dict(family="DejaVu Sans", size=41.67, color="black"))
fig.update_xaxes(range=[-159.7, 148.5], tickvals=X_TICKS, **axis)
fig.update_yaxes(range=[-152.2, 147.9], tickvals=Y_TICKS, ticklabelstandoff=10, **axis)
fig.update_layout(
    width=2453, height=2208, autosize=False, plot_bgcolor="white", paper_bgcolor="white",
    margin=dict(l=173, r=317, t=151, b=108),
    title=dict(text=TITLE_LINE_1, x=0.5, xref="paper", xanchor="center", y=0.9783, yref="container", yanchor="middle",
               font=dict(family="DejaVu Sans", size=52, color="black")),
    annotations=[dict(text=TITLE_LINE_2, x=0.5, xref="paper", xanchor="center", y=1, yref="paper", yanchor="middle",
                      yshift=43, showarrow=False, font=dict(family="DejaVu Sans", size=52, color="black"))])
fig.write_html("out.html")
